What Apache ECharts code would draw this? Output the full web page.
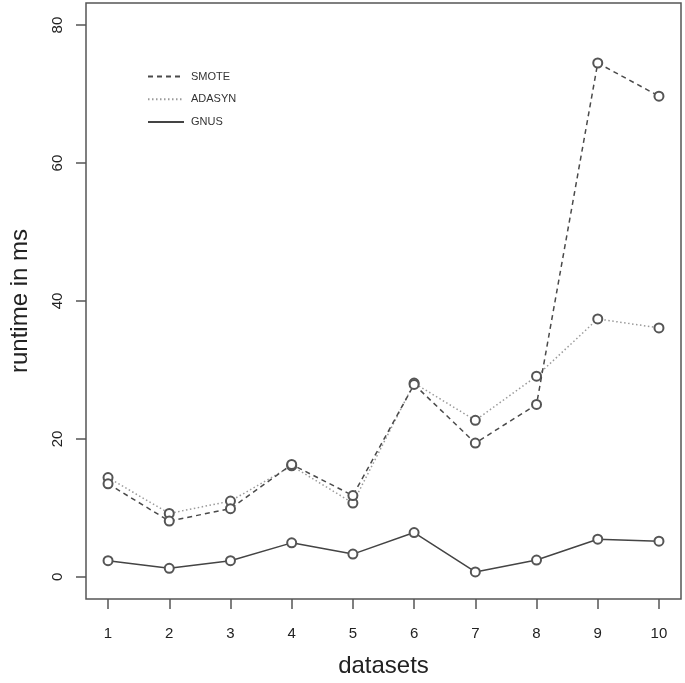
<!DOCTYPE html>
<html>
<head>
<meta charset="utf-8">
<script src="https://cdn.jsdelivr.net/npm/echarts@6/dist/echarts.min.js"></script>
<style>
html,body{margin:0;padding:0;background:#fff;}
#chart{width:685px;height:683px;}
</style>
</head>
<body>
<div id="chart"></div>
<script>
var datasets = [1, 2, 3, 4, 5, 6, 7, 8, 9, 10];
var smote  = [13.5, 8.1, 9.9, 16.3, 11.8, 27.9, 19.4, 25.0, 74.5, 69.7];
var adasyn = [14.4, 9.2, 11.0, 16.1, 10.7, 28.1, 22.7, 29.1, 37.4, 36.1];
var gnus   = [2.35, 1.25, 2.35, 4.94, 3.31, 6.43, 0.72, 2.45, 5.47, 5.18];
var xTicks = [1, 2, 3, 4, 5, 6, 7, 8, 9, 10];
var yTicks = [0, 20, 40, 60, 80];

function pairs(vals) {
  return datasets.map(function (d, i) { return [d, vals[i]]; });
}

var FONT = "'Liberation Sans', Arial, sans-serif";
var chart = echarts.init(document.getElementById('chart'), null, {renderer: 'canvas'});

function mkSeries(name, vals, lineType, color, z) {
  return {
    name: name,
    type: 'line',
    data: pairs(vals),
    symbol: 'emptyCircle',
    symbolSize: 9,
    z: z,
    lineStyle: {type: lineType, color: color, width: 1.5},
    itemStyle: {color: '#555', borderColor: '#555', borderWidth: 1.5},
    emphasis: {disabled: true},
    animation: false
  };
}

chart.setOption({
  backgroundColor: '#fff',
  animation: false,
  grid: {
    left: 84, right: 4, top: 3, bottom: 81,
    show: true, borderColor: '#555', borderWidth: 1.5, backgroundColor: 'transparent'
  },
  legend: {
    orient: 'vertical',
    left: 142,
    top: 65,
    itemWidth: 36,
    itemHeight: 14,
    itemGap: 9.5,
    selectedMode: false,
    itemStyle: {opacity: 0},
    textStyle: {fontFamily: FONT, fontSize: 11, color: '#333', padding: [0, 0, 0, 2]},
    data: ['SMOTE', 'ADASYN', 'GNUS']
  },
  xAxis: {
    type: 'value',
    min: 0.64,
    max: 10.36,
    name: 'datasets',
    nameLocation: 'middle',
    nameGap: 55,
    nameTextStyle: {fontFamily: FONT, fontSize: 24, color: '#222'},
    axisLine: {show: false, onZero: false},
    axisTick: {show: true, inside: false, length: 10, customValues: xTicks, lineStyle: {color: '#555', width: 1.5}},
    axisLabel: {customValues: xTicks, margin: 27, fontFamily: FONT, fontSize: 15, color: '#222'},
    splitLine: {show: false}
  },
  yAxis: {
    type: 'value',
    min: -3.2,
    max: 83.2,
    name: 'runtime in ms',
    nameLocation: 'middle',
    nameGap: 54,
    nameTextStyle: {fontFamily: FONT, fontSize: 24, color: '#222'},
    axisLine: {show: false, onZero: false},
    axisTick: {show: true, inside: false, length: 10, customValues: yTicks, lineStyle: {color: '#555', width: 1.5}},
    axisLabel: {customValues: yTicks, rotate: 90, margin: 21, fontFamily: FONT, fontSize: 15, color: '#222'},
    splitLine: {show: false}
  },
  series: [
    mkSeries('SMOTE', smote, [5, 4], '#4a4a4a', 3),
    mkSeries('ADASYN', adasyn, [1.5, 2.5], '#9a9a9a', 2),
    mkSeries('GNUS', gnus, 'solid', '#444', 4)
  ]
});
</script>
</body>
</html>
